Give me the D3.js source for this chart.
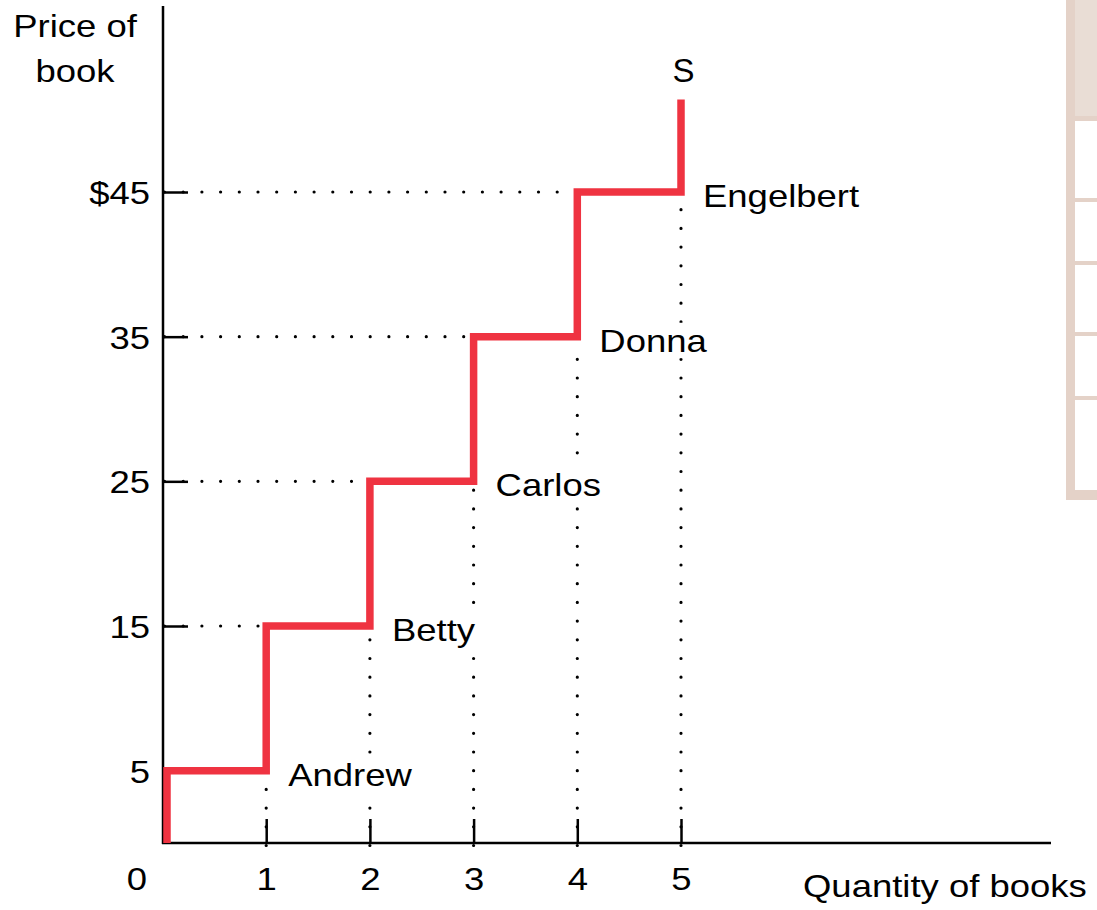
<!DOCTYPE html>
<html>
<head>
<meta charset="utf-8">
<script src="https://cdn.jsdelivr.net/npm/d3@7"></script>
<style>
  html, body { margin: 0; padding: 0; background: #fff; }
  svg { display: block; }
  text { font-family: "Liberation Sans", Arial, Helvetica, sans-serif; fill: #000; }
</style>
</head>
<body>
<svg id="chart" width="1097" height="910"></svg>
<script>
// ---- data ----
const sellers = ["Andrew", "Betty", "Carlos", "Donna", "Engelbert"];
const sellerPrices = [5, 15, 25, 35, 45];
const sellerQuantities = [1, 2, 3, 4, 5];
const curveTopPrice = 51.4;
const yTickValues = [5, 15, 25, 35, 45];
const yTickLabels = ["5", "15", "25", "35", "$45"];
const xTickValues = [0, 1, 2, 3, 4, 5];
const xTickLabels = ["0", "1", "2", "3", "4", "5"];
const supplyLabel = "S";
const yAxisTitle = ["Price of", "book"];
const xAxisTitle = "Quantity of books";

// ---- layout ----
const svg = d3.select("#chart");
const FS = 32, SX = 1.14;
const RED = "#ef3341";
const x = d3.scaleLinear().domain([0, 5]).range([162.5, 681]);
const y = d3.scaleLinear().domain([0, 45]).range([843, 192]);

function stretchedText(g, str, tx, ty, anchor, fs, sx) {
  return g.append("text")
    .attr("transform", `translate(${tx},${ty}) scale(${sx || SX},1)`)
    .attr("text-anchor", anchor || "start")
    .attr("font-size", fs || FS)
    .text(str);
}

// ---- cropped table at the right edge (decorative) ----
const tbl = svg.append("g");
const tBorder = "#e4d2c8", tHead = "#e9ddd5";
tbl.append("rect").attr("x", 1075).attr("y", 0).attr("width", 30).attr("height", 116).attr("fill", tHead);
tbl.append("rect").attr("x", 1066).attr("y", 0).attr("width", 9).attr("height", 500).attr("fill", tBorder);
tbl.append("rect").attr("x", 1066).attr("y", 116).attr("width", 40).attr("height", 5).attr("fill", tBorder);
[198, 261, 332, 396].forEach(yy =>
  tbl.append("rect").attr("x", 1066).attr("y", yy).attr("width", 40).attr("height", 4).attr("fill", tBorder));
tbl.append("rect").attr("x", 1066).attr("y", 490).attr("width", 40).attr("height", 10).attr("fill", tBorder);

// ---- dotted guide lines ----
const dots = svg.append("g")
  .attr("stroke", "#000").attr("stroke-width", 3.2)
  .attr("stroke-linecap", "round").attr("stroke-dasharray", "0 18.7").attr("fill", "none");
// horizontal: from y axis to the step's left edge
sellerPrices.forEach((p, i) => {
  if (i === 0) return;
  dots.append("path").attr("d", d3.line()([[x(0) + 2, y(p)], [x(sellerQuantities[i] - 1) - 4, y(p)]]));
});
// vertical: from x axis up to the step
sellerQuantities.forEach((q, i) => {
  dots.append("path").attr("d", d3.line()([[x(q), y(0) + 2.5], [x(q), y(sellerPrices[i]) + 4]]));
});

// ---- axes ----
const yAxis = d3.axisLeft(y).tickValues(yTickValues).tickSizeInner(-25).tickSizeOuter(0)
  .tickPadding(13).tickFormat((d, i) => yTickLabels[i]);
const gy = svg.append("g").attr("transform", `translate(${x(0) + 0.5},0)`).call(yAxis);
gy.select(".domain").remove();
gy.selectAll(".tick line").attr("stroke", "#000").attr("stroke-width", 2.5);
gy.selectAll(".tick text").each(function() {
  const t = d3.select(this);
  t.attr("x", null).attr("dy", null)
   .attr("transform", `translate(-13,11.5) scale(${SX},1)`)
   .attr("font-size", FS).attr("font-family", null).attr("fill", "#000");
});

const xAxis = d3.axisBottom(x).tickValues(xTickValues).tickSizeInner(-24).tickSizeOuter(0)
  .tickPadding(0).tickFormat((d, i) => xTickLabels[i]);
const gx = svg.append("g").attr("transform", `translate(0,${y(0)})`).call(xAxis);
gx.select(".domain").remove();
gx.selectAll(".tick line").attr("stroke", "#000").attr("stroke-width", 2.5)
  .filter(d => d === 0).remove();
gx.selectAll(".tick text").each(function(d) {
  const t = d3.select(this);
  const dx = d === 0 ? -26 : 0;
  t.attr("y", null).attr("dy", null)
   .attr("transform", `translate(${dx},47) scale(${SX},1)`)
   .attr("font-size", FS).attr("font-family", null).attr("fill", "#000");
});

// axis lines
svg.append("line").attr("x1", x(0) + 0.5).attr("x2", x(0) + 0.5).attr("y1", 6).attr("y2", y(0) + 1)
  .attr("stroke", "#000").attr("stroke-width", 2.5);
svg.append("line").attr("x1", x(0) - 0.5).attr("x2", 1051).attr("y1", y(0)).attr("y2", y(0))
  .attr("stroke", "#000").attr("stroke-width", 2.5);

// ---- supply step curve ----
const stepPts = [[x(0) + 4.5, y(0)]];
sellerPrices.forEach((p, i) => {
  if (i === 0) stepPts.push([x(0) + 4.5, y(p)]);
  else stepPts.push([x(sellerQuantities[i] - 1), y(p)]);
  stepPts.push([x(sellerQuantities[i]), y(p)]);
});
stepPts.push([x(sellerQuantities[sellerQuantities.length - 1]), y(curveTopPrice)]);
svg.append("path").attr("d", d3.line()(stepPts))
  .attr("fill", "none").attr("stroke", RED).attr("stroke-width", 7.5)
  .attr("stroke-linejoin", "miter").attr("stroke-linecap", "butt");

// ---- seller labels (white backing hides the guide dots under them) ----
sellers.forEach((name, i) => {
  const g = svg.append("g")
    .attr("transform", `translate(${x(sellerQuantities[i]) + 22},${y(sellerPrices[i]) + 15}) scale(${SX},1)`);
  const t = g.append("text").attr("font-size", FS).text(name);
  const bb = t.node().getBBox();
  g.insert("rect", "text").attr("x", bb.x - 1).attr("y", bb.y).attr("width", bb.width + 3)
    .attr("height", bb.height).attr("fill", "#fff");
});

// S label
stretchedText(svg, supplyLabel, x(5) + 2.5, 82, "middle", 33, 1.0);

// axis titles
stretchedText(svg, yAxisTitle[0], 75, 37, "middle");
stretchedText(svg, yAxisTitle[1], 75, 82, "middle");
stretchedText(svg, xAxisTitle, 803, 897, "start");
</script>
</body>
</html>
